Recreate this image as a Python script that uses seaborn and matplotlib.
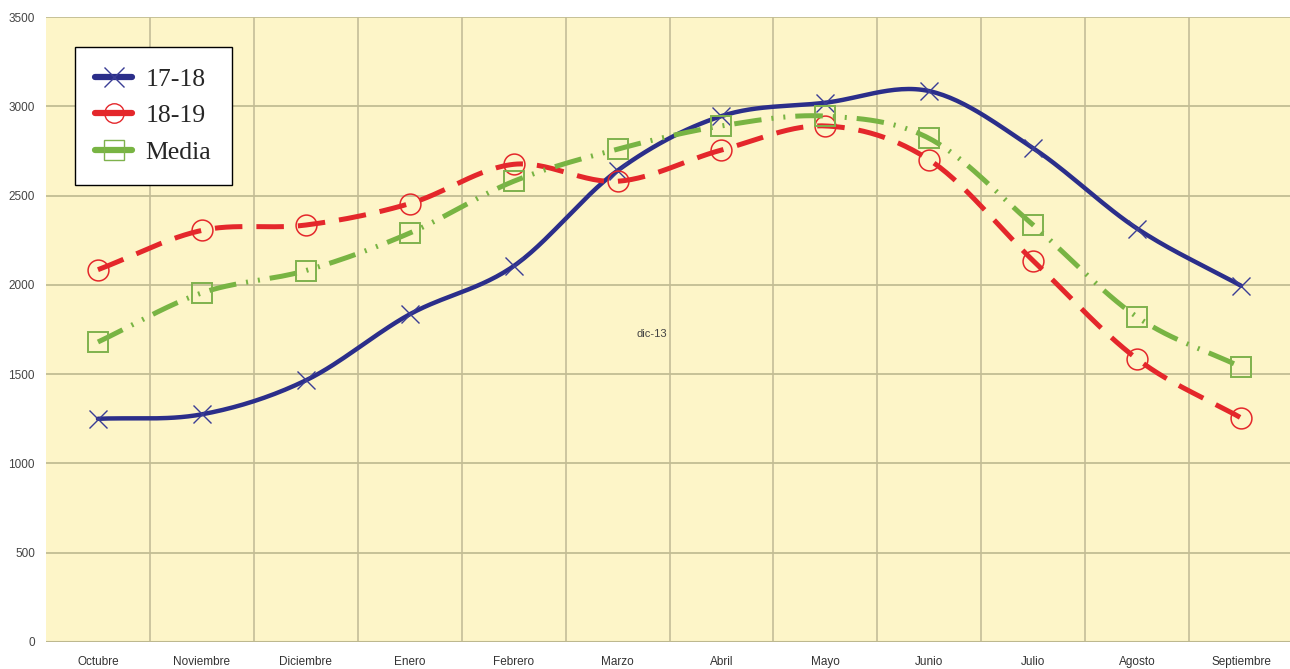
import numpy as np
import pandas as pd
import matplotlib
matplotlib.use('Agg')
import matplotlib.pyplot as plt
import seaborn as sns

meses = ['Octubre', 'Noviembre', 'Diciembre', 'Enero', 'Febrero', 'Marzo',
         'Abril', 'Mayo', 'Junio', 'Julio', 'Agosto', 'Septiembre']
s1718 = [1250, 1275, 1465, 1835, 2105, 2640, 2945, 3020, 3085, 2765, 2315, 1995]
s1819 = [2085, 2305, 2335, 2455, 2675, 2580, 2755, 2890, 2700, 2135, 1585, 1255]
media = [1680, 1955, 2080, 2290, 2580, 2760, 2890, 2945, 2820, 2335, 1820, 1540]
yticks = [0, 500, 1000, 1500, 2000, 2500, 3000, 3500]


def smooth(ys, n=30):
    # Catmull-Rom curve through the points (like Excel's smoothed line)
    x = np.arange(len(ys), dtype=float)
    y = np.asarray(ys, dtype=float)
    px = np.concatenate([[2 * x[0] - x[1]], x, [2 * x[-1] - x[-2]]])
    py = np.concatenate([[2 * y[0] - y[1]], y, [2 * y[-1] - y[-2]]])
    xs, out = [], []
    for i in range(1, len(px) - 2):
        t = np.linspace(0, 1, n, endpoint=False)
        for arr, res in ((px, xs), (py, out)):
            p0, p1, p2, p3 = arr[i - 1], arr[i], arr[i + 1], arr[i + 2]
            res.extend(0.5 * ((2 * p1) + (-p0 + p2) * t
                              + (2 * p0 - 5 * p1 + 4 * p2 - p3) * t ** 2
                              + (-p0 + 3 * p1 - 3 * p2 + p3) * t ** 3))
    xs.append(x[-1])
    out.append(y[-1])
    return np.array(xs), np.array(out)


sns.set_style('white')
fig = plt.figure(figsize=(12.9, 6.69), dpi=100)
ax = fig.add_axes([46 / 1290, 27 / 669, 1247 / 1290, 625 / 669])
ax.set_facecolor('#fdf5c8')

series = [
    ('17-18', s1718, '#2b2e8a', '-', 3.2, 'x', 13, '#3a3d95', 1.0),
    ('18-19', s1819, '#e4272b', (0, (5.5, 2.8)), 3.6, 'o', 15, '#e4272b', 1.1),
    ('Media', media, '#78b443', (0, (5.5, 2.0, 0.4, 2.0, 0.4, 2.0)), 3.6, 's', 15, '#7fb24d', 1.4),
]
handles = []
for name, vals, col, ls, lw, mk, ms, mcol, mew in series:
    xs, ys = smooth(vals)
    sns.lineplot(x=xs, y=ys, ax=ax, color=col, linestyle=ls, linewidth=lw,
                 sort=False, estimator=None)
    ax.plot(range(len(vals)), vals, linestyle='none', marker=mk, markersize=ms,
            markerfacecolor='none', markeredgecolor=mcol, markeredgewidth=mew)
    h, = ax.plot([], [], color=col, linewidth=4.5, marker=mk, markersize=14,
                 markerfacecolor='none', markeredgecolor=mcol, markeredgewidth=1.0)
    handles.append((h, name))

ax.set_xlim(-0.5, len(meses) - 0.5)
ax.set_ylim(0, 3500)
ax.set_xticks(range(len(meses)))
ax.set_xticklabels(meses, fontsize=8.5, color='#333333', family='Liberation Sans')
ax.set_xticks(np.arange(0.5, len(meses) - 1, 1), minor=True)
ax.set_yticks(yticks)
ax.set_yticklabels([str(v) for v in yticks], fontsize=8.5, color='#444444',
                   family='Liberation Sans')
ax.tick_params(axis='y', length=0, pad=8)
ax.tick_params(axis='x', which='major', length=0, pad=10)
ax.tick_params(axis='x', which='minor', length=0)

ax.grid(axis='y', which='major', color='#c2bd93', linewidth=1.3)
ax.grid(axis='x', which='minor', color='#c8c29c', linewidth=1.3)
ax.set_axisbelow(True)
for sp in ax.spines.values():
    sp.set_visible(False)
ax.axhline(0, color='#bdb88f', linewidth=1.5)

ax.text(5.33, 1725, 'dic-13', fontsize=8, color='#444444', ha='center', va='center',
        family='Liberation Sans')

leg = ax.legend([h for h, _ in handles], [n for _, n in handles],
                loc='upper left', bbox_to_anchor=(0.023, 0.952), borderaxespad=0,
                frameon=True, fancybox=False, edgecolor='black', framealpha=1,
                prop={'family': 'Liberation Serif', 'size': 18.5},
                handlelength=1.45, borderpad=0.8, labelspacing=0.54, handletextpad=0.5)
leg.get_frame().set_linewidth(1.0)

fig.savefig('out.png', dpi=100, facecolor='white')
